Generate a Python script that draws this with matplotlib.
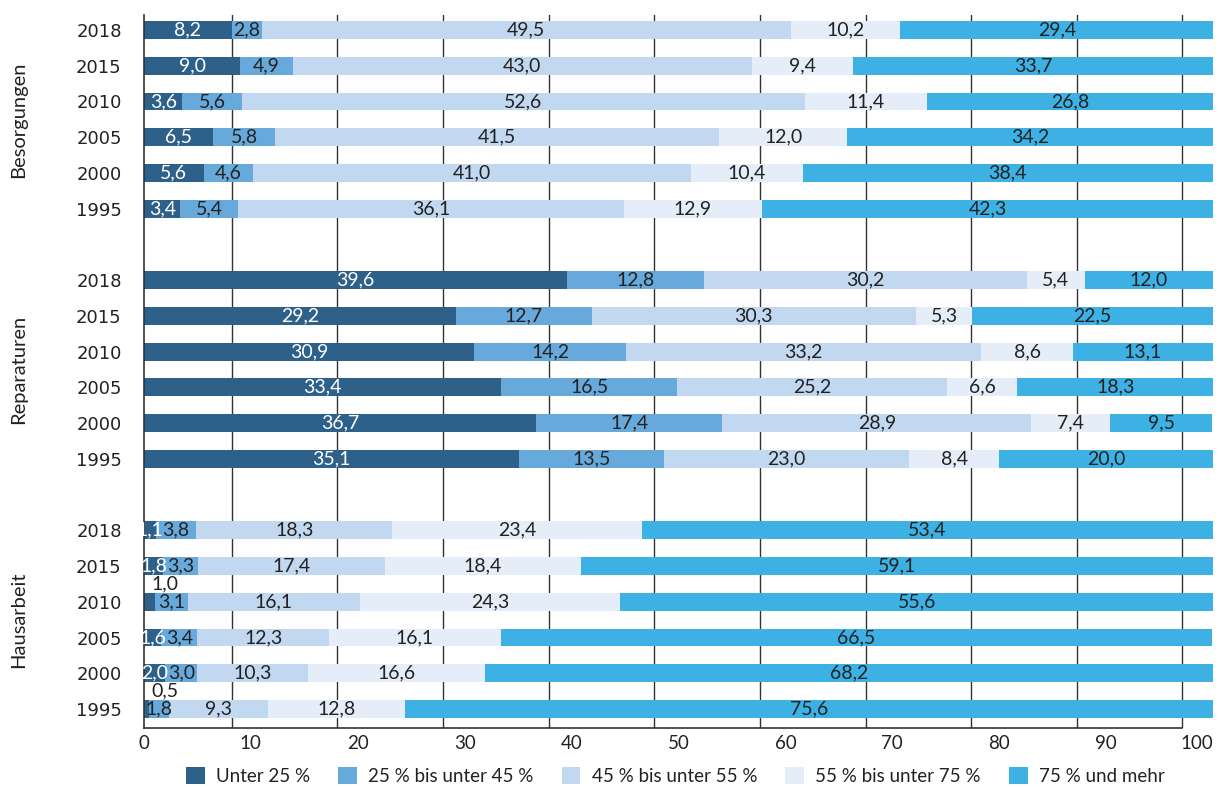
import numpy as np
import matplotlib.pyplot as plt
from matplotlib.transforms import blended_transform_factory

plt.rcParams['font.family'] = ['Lato', 'DejaVu Sans']

groups = ["Besorgungen", "Reparaturen", "Hausarbeit"]
years = ["2018", "2015", "2010", "2005", "2000", "1995"]
categories = ["Unter 25 %", "25 % bis unter 45 %", "45 % bis unter 55 %",
              "55 % bis unter 75 %", "75 % und mehr"]

# rows = years (top to bottom), columns = categories
besorgungen = [
    [8.2, 2.8, 49.5, 10.2, 29.4],
    [9.0, 4.9, 43.0, 9.4, 33.7],
    [3.6, 5.6, 52.6, 11.4, 26.8],
    [6.5, 5.8, 41.5, 12.0, 34.2],
    [5.6, 4.6, 41.0, 10.4, 38.4],
    [3.4, 5.4, 36.1, 12.9, 42.3],
]
reparaturen = [
    [39.6, 12.8, 30.2, 5.4, 12.0],
    [29.2, 12.7, 30.3, 5.3, 22.5],
    [30.9, 14.2, 33.2, 8.6, 13.1],
    [33.4, 16.5, 25.2, 6.6, 18.3],
    [36.7, 17.4, 28.9, 7.4, 9.5],
    [35.1, 13.5, 23.0, 8.4, 20.0],
]
hausarbeit = [
    [1.1, 3.8, 18.3, 23.4, 53.4],
    [1.8, 3.3, 17.4, 18.4, 59.1],
    [1.0, 3.1, 16.1, 24.3, 55.6],
    [1.6, 3.4, 12.3, 16.1, 66.5],
    [2.0, 3.0, 10.3, 16.6, 68.2],
    [0.5, 1.8, 9.3, 12.8, 75.6],
]
group_data = [besorgungen, reparaturen, hausarbeit]

colors = ["#2e6189", "#68a9dc", "#c1d8f0", "#e4edf8", "#3db0e4"]
text_colors = ["white", "#222222", "#222222", "#222222", "#222222"]


def fmt(v):
    return f"{v:.1f}".replace(".", ",")


fig = plt.figure(figsize=(12.19, 7.87), dpi=100)
ax = fig.add_axes([0.1181, 0.075, 0.877, 0.906])

# separate axis only for the vertical grid lines (they sit offset in the original)
axg = ax.twiny()
axg.set_xlim(1.68, 102.9)
axg.set_xticks(np.arange(10, 101, 10))
axg.grid(axis='x', color='#333333', linewidth=1.0)
axg.tick_params(axis='x', length=0, labeltop=False, labelbottom=False)
for s in ['top', 'right', 'left']:
    axg.spines[s].set_visible(False)
axg.spines['bottom'].set_visible(True)
axg.spines['bottom'].set_bounds(1.68, 100)
axg.spines['bottom'].set_color('#333333')
axg.spines['bottom'].set_linewidth(1.2)

ax.set_zorder(axg.get_zorder() + 1)
ax.patch.set_visible(False)

ytick_pos = []
ytick_lab = []
for g, data in enumerate(group_data):
    data = np.array(data)
    ypos = g * 7 + np.arange(len(years))
    ytick_pos += list(ypos)
    ytick_lab += years
    left = np.zeros(len(years))
    for c in range(len(categories)):
        vals = data[:, c]
        ax.barh(ypos, vals, left=left, height=0.5, color=colors[c],
                label=categories[c] if g == 0 else None)
        for y, l, v in zip(ypos, left, vals):
            if v <= 1.0:
                ax.text(2.0, y - 0.26, fmt(v), ha='center', va='bottom',
                        fontsize=14, color='#222222')
            else:
                ax.text(l + v / 2, y, fmt(v), ha='center', va='center',
                        fontsize=14, color=text_colors[c])
        left = left + vals

ax.set_xlim(0, 100)
ax.set_ylim(19.53, -0.42)
ax.set_yticks(ytick_pos, labels=ytick_lab, fontsize=13, family='DejaVu Sans')
ax.tick_params(axis='y', length=0, pad=16, colors='#222222')
ax.set_xticks(np.arange(0, 101, 10))
ax.tick_params(axis='x', length=0, pad=5, labelsize=13.5, colors='#222222')
ax.get_xticklabels()[-1].set_ha('right')
for s in ['top', 'right', 'bottom']:
    ax.spines[s].set_visible(False)
ax.spines['left'].set_color('#333333')
ax.spines['left'].set_linewidth(1.2)

trans = blended_transform_factory(fig.transFigure, ax.transData)
for g, name in enumerate(groups):
    ax.text(0.015, g * 7 + 2.5, name, transform=trans, rotation=90,
            ha='center', va='center', fontsize=14.5, color='#222222')

fig.legend(loc='center', bbox_to_anchor=(0.554, 0.014), ncol=5, frameon=False,
           fontsize=13.5, handlelength=1.0, handleheight=1.0, handletextpad=0.6,
           columnspacing=1.5, labelcolor='#222222')

fig.savefig("out.png", dpi=100)
